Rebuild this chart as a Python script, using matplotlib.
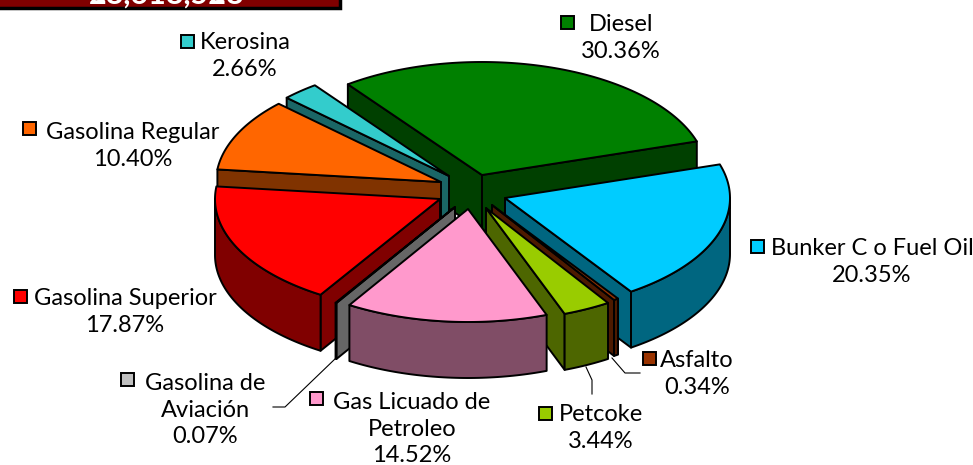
import numpy as np
import matplotlib.pyplot as plt
from matplotlib.patches import Polygon, Rectangle

plt.rcParams['font.family'] = ['Lato', 'DejaVu Sans']

categories = ["Diesel", "Bunker C o Fuel Oil", "Asfalto", "Petcoke", "Gas Licuado de\nPetroleo",
              "Gasolina de\nAviación", "Gasolina Superior", "Gasolina Regular", "Kerosina"]
shares = [30.36, 20.35, 0.34, 3.44, 14.52, 0.07, 17.87, 10.40, 2.66]
total_label = "28,618,528"

top_colors = ["#008000", "#00CCFF", "#993300", "#99CC00", "#FF99CC", "#C0C0C0", "#FF0000", "#FF6600", "#33CCCC"]
side_colors = ["#004000", "#006680", "#4D1A00", "#4D6600", "#804D66", "#666666", "#800000", "#803300", "#1A6666"]

# where the tip of each exploded slice lands, in pixels
apex = [(482, 175), (505, 198), (492, 205), (486, 208), (468, 209), (455, 207), (440, 199), (441, 182), (449, 176)]
# text centre, then the key square's left edge
label_xy = [(621, 38), (872, 262), (697, 374), (601, 428), (412, 429), (205, 410), (125, 312), (133, 146), (245, 56)]
key_xy = [(561, 16), (751, 240), (643, 352), (539, 407), (310, 392), (121, 373), (14, 290), (23, 122), (181, 35)]
RX, RY, DEPTH = 225, 113, 56
START = -36.6
draw_order = [0, 8, 7, 1, 6, 5, 2, 3, 4]

fig = plt.figure(figsize=(9.73, 4.65), dpi=100)
ax = fig.add_axes([0, 0, 1, 1])
ax.set_xlim(0, 973)
ax.set_ylim(465, 0)
ax.axis("off")

edges = np.cumsum([0] + shares) / sum(shares) * 360 + START


def rim(i, t0, t1):
    t = np.radians(np.linspace(t0, t1, max(int(abs(t1 - t0)) + 2, 2)))
    return np.c_[apex[i][0] + RX * np.sin(t), apex[i][1] - RY * np.cos(t)]


def side(pts, color):
    down = pts[::-1] + [0, DEPTH]
    ax.add_patch(Polygon(np.vstack([pts, down]), fc=color, ec="black", lw=1.4, joinstyle="round"))


for i in draw_order:
    t0, t1 = edges[i], edges[i + 1]
    a = np.array(apex[i], dtype=float)
    arc = rim(i, t0, t1)
    # only the faces turned to the viewer get drawn
    if np.sin(np.radians(t0)) < 0:
        side(np.vstack([a, arc[0]]), side_colors[i])
    if np.sin(np.radians(t1)) > 0:
        side(np.vstack([arc[-1], a]), side_colors[i])
    lo, hi = max(t0, 90), min(t1, 270)
    if hi > lo:
        side(rim(i, lo, hi), side_colors[i])
    ax.add_patch(Polygon(np.vstack([a, arc]), fc=top_colors[i], ec="black", lw=1.4, joinstyle="round"))

# leader lines
ax.plot([336, 285, 273], [358, 407, 407], color="black", lw=0.8)
ax.plot([586, 592, 592], [367, 380, 394], color="black", lw=0.8)
ax.plot([612, 625, 640], [358, 373, 373], color="black", lw=0.8)

for i, name in enumerate(categories):
    x, y = label_xy[i]
    # the key sits before the first line of the label
    ax.text(x, y, f"{name}\n{shares[i]:.2f}%", ha="center", va="center", fontsize=17,
            color="black", linespacing=1.33)
    ax.add_patch(Rectangle(key_xy[i], 13, 13, fc=top_colors[i], ec="black", lw=1.4))

# banner cut off by the top of the picture
ax.add_patch(Rectangle((-5, -20), 345, 28.5, fc="#800000", ec="black", lw=2.5))
ax.text(167, -5, total_label, ha="center", va="center", fontsize=22, fontweight="bold", color="white")

fig.savefig("out.png", dpi=100)
